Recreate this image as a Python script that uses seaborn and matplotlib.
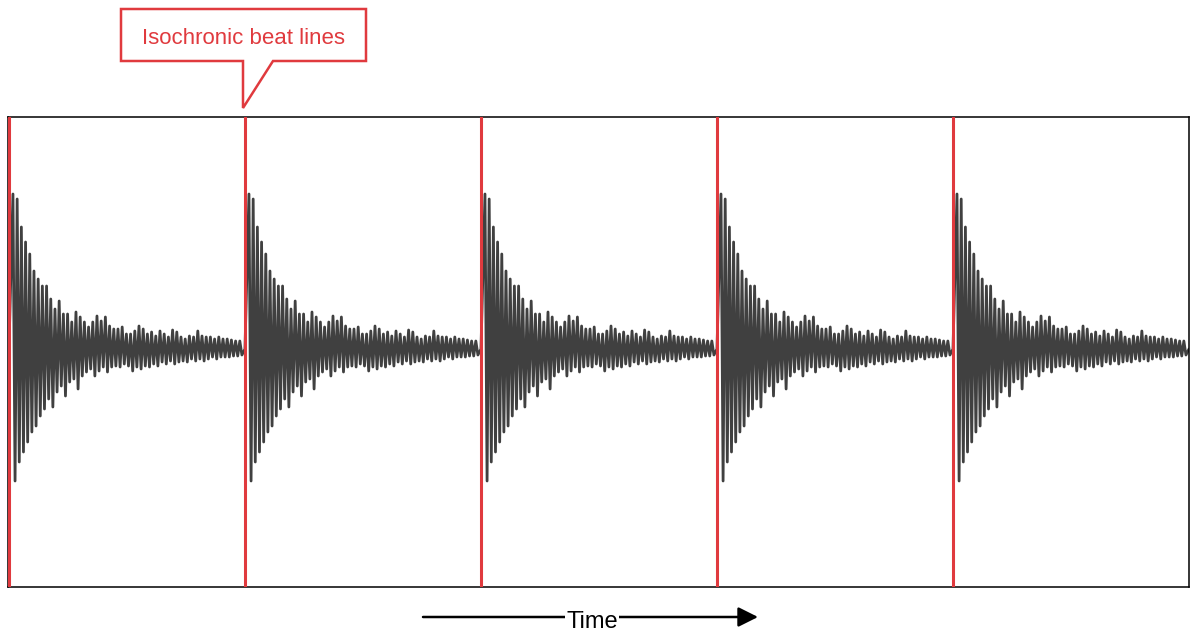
import numpy as np
import pandas as pd
import matplotlib
matplotlib.use("Agg")
import matplotlib.pyplot as plt
from matplotlib.patches import Polygon
import seaborn as sns

# peak heights of one beat's decaying burst (upper and lower half-cycles)
upper_peaks = [155, 150, 122, 107, 95, 78, 70, 63, 63, 50, 40, 48, 35, 35, 27, 37, 32, 27,
               22, 27, 33, 28, 32, 23, 20, 20, 22, 15, 15, 18, 23, 20, 15, 17, 13, 18,
               15, 12, 19, 17, 12, 10, 13, 12, 18, 13, 12, 12, 10, 12, 10, 10, 9, 8, 8]
lower_peaks = [132, 113, 103, 93, 83, 77, 67, 60, 50, 58, 43, 37, 47, 33, 30, 40, 27, 23,
               20, 27, 22, 18, 23, 18, 17, 18, 15, 17, 22, 18, 20, 17, 18, 15, 17, 13,
               15, 12, 15, 13, 12, 13, 10, 12, 10, 12, 10, 8, 10, 8, 8, 8, 7, 7, 6]
beats = [0, 1, 2, 3, 4]
first_peak = 0.017      # time of first peak after the beat (in beats)
peak_spacing = 0.0178   # one cycle (in beats)

RED = '#e03a3e'
WAVE = '#404040'

# build the waveform: zero at each beat, then alternating up/down peaks
rows = []
for b in beats:
    rows.append((b, 0.0))
    for i, (up, lo) in enumerate(zip(upper_peaks, lower_peaks)):
        t = b + first_peak + i * peak_spacing
        rows.append((t, up))
        rows.append((t + peak_spacing / 2, -lo))
rows.append((len(beats), 0.0))
wave = pd.DataFrame(rows, columns=['time', 'amplitude'])

sns.set_style('white')
plt.rcParams['font.family'] = ['Liberation Sans', 'DejaVu Sans']

fig = plt.figure(figsize=(12, 6.42), dpi=100)
ax = fig.add_axes([8 / 1200, 55 / 642, 1181 / 1200, 470 / 642])

sns.lineplot(data=wave, x='time', y='amplitude', sort=False, estimator=None,
             color=WAVE, lw=2.0, ax=ax)
for b in beats:
    ax.axvline(b, color=RED, lw=2.2, zorder=5)

ax.set_xlim(-0.004, 5.0)
ax.set_ylim(-238, 232)
ax.set_xticks([])
ax.set_yticks([])
ax.set_xlabel('')
ax.set_ylabel('')
for s in ax.spines.values():
    s.set_visible(True)
    s.set_color('black')
    s.set_linewidth(1.1)

# overlay in pixel coordinates for the callout and the time arrow
ov = fig.add_axes([0, 0, 1, 1], facecolor='none')
ov.set_xlim(0, 1200)
ov.set_ylim(642, 0)
ov.axis('off')

callout = Polygon([(121, 9), (366, 9), (366, 61), (273, 61), (243, 108), (243, 61), (121, 61)],
                  closed=True, facecolor='white', edgecolor=RED, lw=1.8)
ov.add_patch(callout)
ov.text(244, 44, 'Isochronic beat lines', color=RED, fontsize=16,
        ha='center', va='baseline')

ov.annotate('', xy=(758, 617), xytext=(423, 617),
            arrowprops=dict(arrowstyle='-|>', lw=1.8, color='black',
                            mutation_scale=30, shrinkA=0, shrinkB=0))
ov.text(592, 628, 'Time', color='black', fontsize=17, ha='center', va='baseline',
        bbox=dict(facecolor='white', edgecolor='none', pad=0.5))

fig.savefig('out.png', dpi=100)
